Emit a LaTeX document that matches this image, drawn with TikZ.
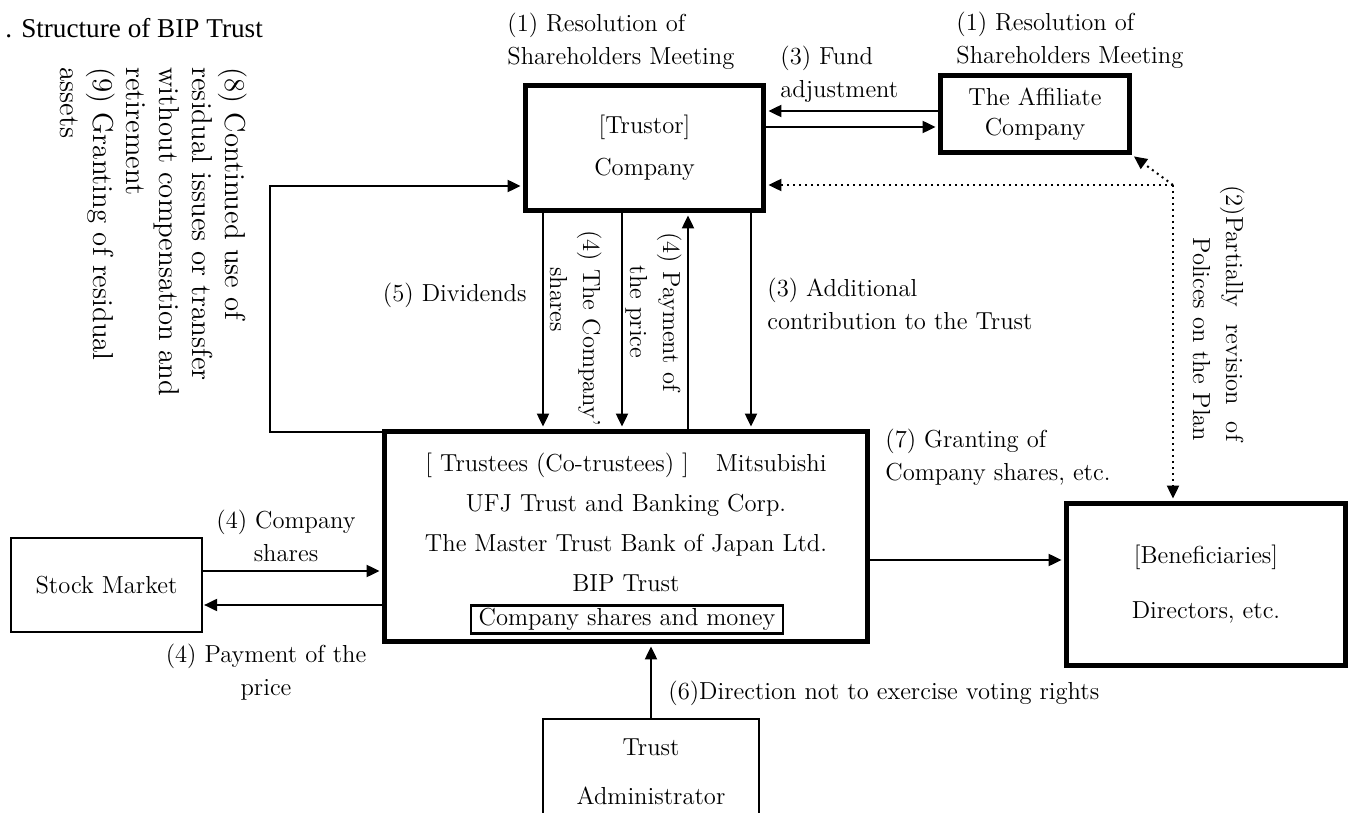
\documentclass[tikz,border=0pt]{standalone}
\usepackage{fontspec}
\newfontfamily\titlefont{Liberation Serif}
\usetikzlibrary{arrows.meta}
\begin{document}
\begin{tikzpicture}[x=0.5pt,y=-0.5pt,
  every node/.style={inner sep=0pt, font=\fontsize{12.3}{16.5}\selectfont},
  heavy/.style={draw, line width=2.5pt, inner sep=0pt},
  light/.style={draw, line width=1.1pt, inner sep=0pt},
  thinline/.style={line width=1pt},
  arr/.style={line width=1pt, -{Triangle[length=6.5pt,width=6pt]}},
  arrh/.style={arr, shorten >=1.2pt},
  dotarr/.style={line width=1pt, dotted, -{Triangle[length=6.5pt,width=6pt]}, shorten >=1.2pt},
  bigrot/.style={font=\fontsize{14.4}{16.5}\selectfont},
]
\useasboundingbox (0,0) rectangle (1357,813);

% ---- boxes ----
\node[heavy, minimum width=119pt, minimum height=62.5pt, align=center,
      font=\fontsize{12.3}{21}\selectfont] (trustor) at (644.5,148) {[Trustor]\\Company};
\node[heavy, minimum width=94.5pt, minimum height=38.5pt, align=center,
      font=\fontsize{12.3}{15}\selectfont] (affil) at (1035,114) {The Affiliate\\Company};
\node[heavy, minimum width=241.5pt, minimum height=105pt] (trust) at (626,536.5) {};
\node[align=center, font=\fontsize{12.3}{20}\selectfont] (trusttext) at (626,522)
  {[ Trustees (Co-trustees) ]\hspace{13.5pt}Mitsubishi\\UFJ Trust and Banking Corp.\\The Master Trust Bank of Japan Ltd.\\BIP Trust};
\node[light, minimum width=156pt, minimum height=14pt] (assets) at (627,619.5) {Company shares and money};
\node[light, minimum width=95.5pt, minimum height=47pt] (stock) at (106.5,585) {Stock Market};
\node[heavy, minimum width=139.5pt, minimum height=81pt, align=center,
      font=\fontsize{12.3}{27.5}\selectfont] (benef) at (1206,584.5) {[Beneficiaries]\\Directors, etc.};
\node[minimum width=108pt, minimum height=53pt, align=center,
      font=\fontsize{12.3}{24.5}\selectfont] (admin) at (651,772) {Trust\\Administrator};
\coordinate (pagebottom) at (0,813);
\draw[thinline] (admin.north west |- pagebottom) -- (admin.north west) -- (admin.north east) -- (admin.north east |- pagebottom);

% ---- helper coordinates ----
\coordinate (xa) at (543,0);
\coordinate (xb) at (622,0);
\coordinate (xc) at (688,0);
\coordinate (xd) at (751,0);
\coordinate (ya) at (0,111);
\coordinate (yb) at (0,127);
\coordinate (ys1) at (0,571);
\coordinate (ys2) at (0,605);
\coordinate (yg) at (0,560);
\coordinate (dc) at (1173,185);
\coordinate (fbb) at (270,432);
\coordinate (fbt) at (270,186);

% ---- connectors ----
\draw[arrh] (trustor.south -| xa) -- (trust.north -| xa);
\draw[arrh] (trustor.south -| xb) -- (trust.north -| xb);
\draw[arrh] (trust.north -| xc) -- (trustor.south -| xc);
\draw[arrh] (trustor.south -| xd) -- (trust.north -| xd);
\draw[arrh] (affil.west |- ya) -- (trustor.east |- ya);
\draw[arrh] (trustor.east |- yb) -- (affil.west |- yb);
\draw[dotarr] (dc) -- (trustor.east |- dc);
\draw[dotarr] (dc) -- (affil.south east);
\draw[dotarr] (dc) -- (benef.north -| dc);
\draw[arrh] (trust.west |- fbb) -- (fbb) -- (fbt) -- (trustor.west |- fbt);
\draw[arrh] (stock.east |- ys1) -- (trust.west |- ys1);
\draw[arr, shorten >=0.5pt] (trust.west |- ys2) -- (stock.east |- ys2);
\draw[arrh] (admin.north) -- (trust.south -| admin.north);
\draw[arrh] (trust.east |- yg) -- (benef.west |- yg);

% ---- labels ----
\node[anchor=west, font=\titlefont\fontsize{13.6}{16}\selectfont] (title) at (5,28) {. Structure of BIP Trust};
\node[align=left, anchor=west] (lres1) at (507,41) {(1) Resolution of\\Shareholders Meeting};
\node[align=left, anchor=west] (lres2) at (956,40) {(1) Resolution of\\Shareholders Meeting};
\node[align=left, anchor=west] (lfund) at (780,74) {(3) Fund\\adjustment};
\node[align=right, text width=128pt, rotate=-90, anchor=north west] (lpol) at (1245,185)
  {(2)Partially\hfill revision\hfill of\\Polices on the Plan};
\node[align=left, rotate=-90, anchor=north west, bigrot] (lres) at (248,67)
  {(8) Continued use of\\residual issues or transfer\\without compensation and\\retirement\\(9) Granting of residual\\assets};
\node[anchor=east] (ldiv) at (527,295) {(5) Dividends};
\node[align=left, rotate=-90, anchor=north west] (lshares) at (602,230)
  {(4) The Company’\\\hspace*{18.5pt}shares};
\node[align=center, rotate=-90, anchor=north] (lpay) at (682,312) {(4) Payment of\\the price};
\node[align=left, anchor=west] (ladd) at (767,304) {(3) Additional\\contribution to the Trust};
\node[align=center] (lcs) at (286,536) {(4) Company\\shares};
\node[align=center] (lpp) at (266,672) {(4) Payment of the\\price};
\node[anchor=west] (ldir) at (668,693) {(6)Direction not to exercise voting rights};
\node[align=left, anchor=west] (lgrant) at (885,457) {(7) Granting of\\Company shares, etc.};
\end{tikzpicture}
\end{document}
